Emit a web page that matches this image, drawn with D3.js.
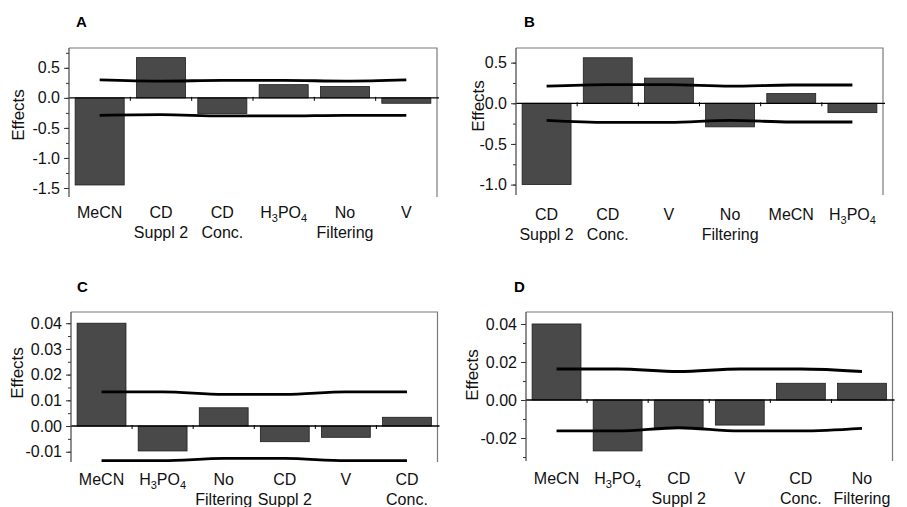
<!DOCTYPE html>
<html>
<head>
<meta charset="utf-8">
<script src="https://cdn.jsdelivr.net/npm/d3@7"></script>
<style>
  body { margin: 0; background: #fff; }
  svg { display: block; font-family: "Liberation Sans", Arial, sans-serif; }
</style>
</head>
<body>
<div id="chart"></div>
<script>
// categories and effects per panel
const catsA = ['MeCN', 'CD\nSuppl 2', 'CD\nConc.', 'H3PO4', 'No\nFiltering', 'V'];
const effA = [-1.45, 0.67, -0.26, 0.22, 0.19, -0.09];
const upA = [0.30, 0.28, 0.29, 0.29, 0.28, 0.30];
const loA = [-0.29, -0.28, -0.30, -0.30, -0.29, -0.29];

const catsB = ['CD\nSuppl 2', 'CD\nConc.', 'V', 'No\nFiltering', 'MeCN', 'H3PO4'];
const effB = [-1.0, 0.56, 0.31, -0.29, 0.12, -0.115];
const upB = [0.21, 0.23, 0.23, 0.21, 0.225, 0.225];
const loB = [-0.21, -0.235, -0.235, -0.21, -0.23, -0.23];

const catsC = ['MeCN', 'H3PO4', 'No\nFiltering', 'CD\nSuppl 2', 'V', 'CD\nConc.'];
const effC = [0.040, -0.0097, 0.0071, -0.0061, -0.0044, 0.0034];
const upC = [0.0133, 0.0133, 0.0123, 0.0123, 0.0133, 0.0133];
const loC = [-0.0135, -0.0135, -0.0126, -0.0126, -0.0135, -0.0135];

const catsD = ['MeCN', 'H3PO4', 'CD\nSuppl 2', 'V', 'CD\nConc.', 'No\nFiltering'];
const effD = [0.040, -0.0268, -0.0146, -0.0132, 0.0088, 0.0088];
const upD = [0.0163, 0.0163, 0.015, 0.0163, 0.0163, 0.015];
const loD = [-0.0163, -0.0163, -0.0146, -0.0163, -0.0163, -0.0149];

// y tick values
const majorA = [-1.5, -1.0, -0.5, 0.0, 0.5];
const minorA = d3.range(-1.5, 0.76, 0.25);
const majorB = [-1.0, -0.5, 0.0, 0.5];
const minorB = d3.range(-1.0, 0.51, 0.25);
const majorC = [-0.01, 0.0, 0.01, 0.02, 0.03, 0.04];
const minorC = d3.range(-0.01, 0.0401, 0.005);
const majorD = [-0.02, 0.0, 0.02, 0.04];
const minorD = d3.range(-0.03, 0.0401, 0.01);

const width = 907, height = 507;

const svg = d3.select('#chart')
  .append('svg')
  .attr('width', width)
  .attr('height', height);

// panel layout (pixel frame + y domain)
const panels = [
  { letter: 'A', cats: catsA, eff: effA, up: upA, lo: loA, major: majorA, minor: minorA, dec: 1,
    left: 69, right: 437, top: 48, bottom: 197, yDom: [-1.65, 0.83],
    letterX: 76, letterY: 27, titleX: 18, titleY: 115, labelY: 218 },
  { letter: 'B', cats: catsB, eff: effB, up: upB, lo: loB, major: majorB, minor: minorB, dec: 1,
    left: 516, right: 883, top: 48, bottom: 195, yDom: [-1.128, 0.68],
    letterX: 524, letterY: 27, titleX: 478, titleY: 106, labelY: 220 },
  { letter: 'C', cats: catsC, eff: effC, up: upC, lo: loC, major: majorC, minor: minorC, dec: 2,
    left: 71, right: 437.5, top: 312, bottom: 462, yDom: [-0.0140, 0.04436],
    letterX: 77, letterY: 292, titleX: 17, titleY: 373, labelY: 485 },
  { letter: 'D', cats: catsD, eff: effD, up: upD, lo: loD, major: majorD, minor: minorD, dec: 2,
    left: 526, right: 892.5, top: 312, bottom: 461, yDom: [-0.0321, 0.0463],
    letterX: 514, letterY: 292, titleX: 472, titleY: 375, labelY: 484 }
];

// write a label, subscripting digits that follow a letter (H3PO4)
function writeLabel(textSel, str) {
  let buf = '';
  let shift = 0;   // pending baseline reset after a subscript
  const flush = () => {
    if (buf) {
      textSel.append('tspan').attr('dy', shift).text(buf);
      buf = ''; shift = 0;
    }
  };
  str.split('').forEach((ch, i) => {
    if (/[0-9]/.test(ch) && i > 0 && /[A-Za-z]/.test(str[i - 1])) {
      flush();
      textSel.append('tspan').attr('font-size', 11).attr('dy', shift + 4).text(ch);
      shift = -4;
    } else {
      buf += ch;
    }
  });
  flush();
}

function drawPanel(p) {
  const x = d3.scaleBand()
    .domain(p.cats)
    .range([p.left, p.right])
    .paddingInner(0.2)
    .paddingOuter(0.1);

  const xc = d => x(d) + x.bandwidth() / 2;

  const y = d3.scaleLinear()
    .domain(p.yDom)
    .range([p.bottom, p.top]);

  const g = svg.append('g');

  // frame: top and right borders
  g.append('path')
    .attr('d', `M${p.left},${p.top}H${p.right}V${p.bottom}`)
    .attr('fill', 'none')
    .attr('stroke', '#7a7a7a')
    .attr('stroke-width', 1.2);

  // bars
  g.selectAll('rect.bar')
    .data(p.cats)
    .join('rect')
    .attr('class', 'bar')
    .attr('x', d => x(d))
    .attr('width', x.bandwidth())
    .attr('y', (d, i) => y(Math.max(0, p.eff[i])))
    .attr('height', (d, i) => Math.abs(y(p.eff[i]) - y(0)))
    .attr('fill', '#494949')
    .attr('stroke', '#1e1e1e')
    .attr('stroke-width', 0.8);

  // zero axis with ticks at category boundaries
  g.append('line')
    .attr('x1', p.left).attr('x2', p.right + 2)
    .attr('y1', y(0)).attr('y2', y(0))
    .attr('stroke', '#000')
    .attr('stroke-width', 1.3);

  const step = x.step();
  g.selectAll('line.xt')
    .data(p.cats.slice(1))
    .join('line')
    .attr('class', 'xt')
    .attr('x1', d => x(d) - step * x.paddingInner() / 2)
    .attr('x2', d => x(d) - step * x.paddingInner() / 2)
    .attr('y1', y(0) - 1)
    .attr('y2', y(0) + 3)
    .attr('stroke', '#000');

  // left axis, minor ticks then major ticks with labels
  const fmt = v => (Math.abs(v) < 1e-9 ? 0 : v).toFixed(p.dec);

  g.append('g')
    .attr('transform', `translate(${p.left},0)`)
    .call(d3.axisLeft(y).tickValues(p.minor).tickSize(3).tickFormat(''))
    .call(a => a.select('.domain').remove())
    .call(a => a.selectAll('line').attr('stroke', '#333'));

  const ax = g.append('g')
    .attr('transform', `translate(${p.left},0)`)
    .call(d3.axisLeft(y).tickValues(p.major).tickSize(5).tickPadding(4).tickFormat(fmt));
  ax.select('.domain').remove();
  ax.selectAll('line').attr('stroke', '#333');
  ax.selectAll('text')
    .attr('font-size', 16)
    .attr('font-family', '"Liberation Sans", Arial, sans-serif')
    .attr('fill', '#111');

  g.append('line')
    .attr('x1', p.left).attr('x2', p.left)
    .attr('y1', p.top).attr('y2', p.bottom)
    .attr('stroke', '#444')
    .attr('stroke-width', 1.2);

  // limit lines
  const line = d3.line()
    .x(d => xc(d[0]))
    .y(d => y(d[1]))
    .curve(d3.curveMonotoneX);

  [p.up, p.lo].forEach(vals => {
    g.append('path')
      .datum(p.cats.map((c, i) => [c, vals[i]]))
      .attr('fill', 'none')
      .attr('stroke', '#000')
      .attr('stroke-width', 2.8)
      .attr('d', line);
  });

  // category labels
  p.cats.forEach(c => {
    c.split('\n').forEach((ln, j) => {
      const t = g.append('text')
        .attr('x', xc(c))
        .attr('y', p.labelY + j * 20)
        .attr('text-anchor', 'middle')
        .attr('font-size', 16)
        .attr('fill', '#111');
      writeLabel(t, ln);
    });
  });

  // y title
  g.append('text')
    .attr('transform', `translate(${p.titleX},${p.titleY}) rotate(-90)`)
    .attr('text-anchor', 'middle')
    .attr('dy', '0.35em')
    .attr('font-size', 17)
    .attr('fill', '#111')
    .text('Effects');

  // panel letter
  g.append('text')
    .attr('x', p.letterX)
    .attr('y', p.letterY)
    .attr('font-size', 15)
    .attr('font-weight', 'bold')
    .attr('fill', '#000')
    .text(p.letter);
}

panels.forEach(drawPanel);
</script>
</body>
</html>
